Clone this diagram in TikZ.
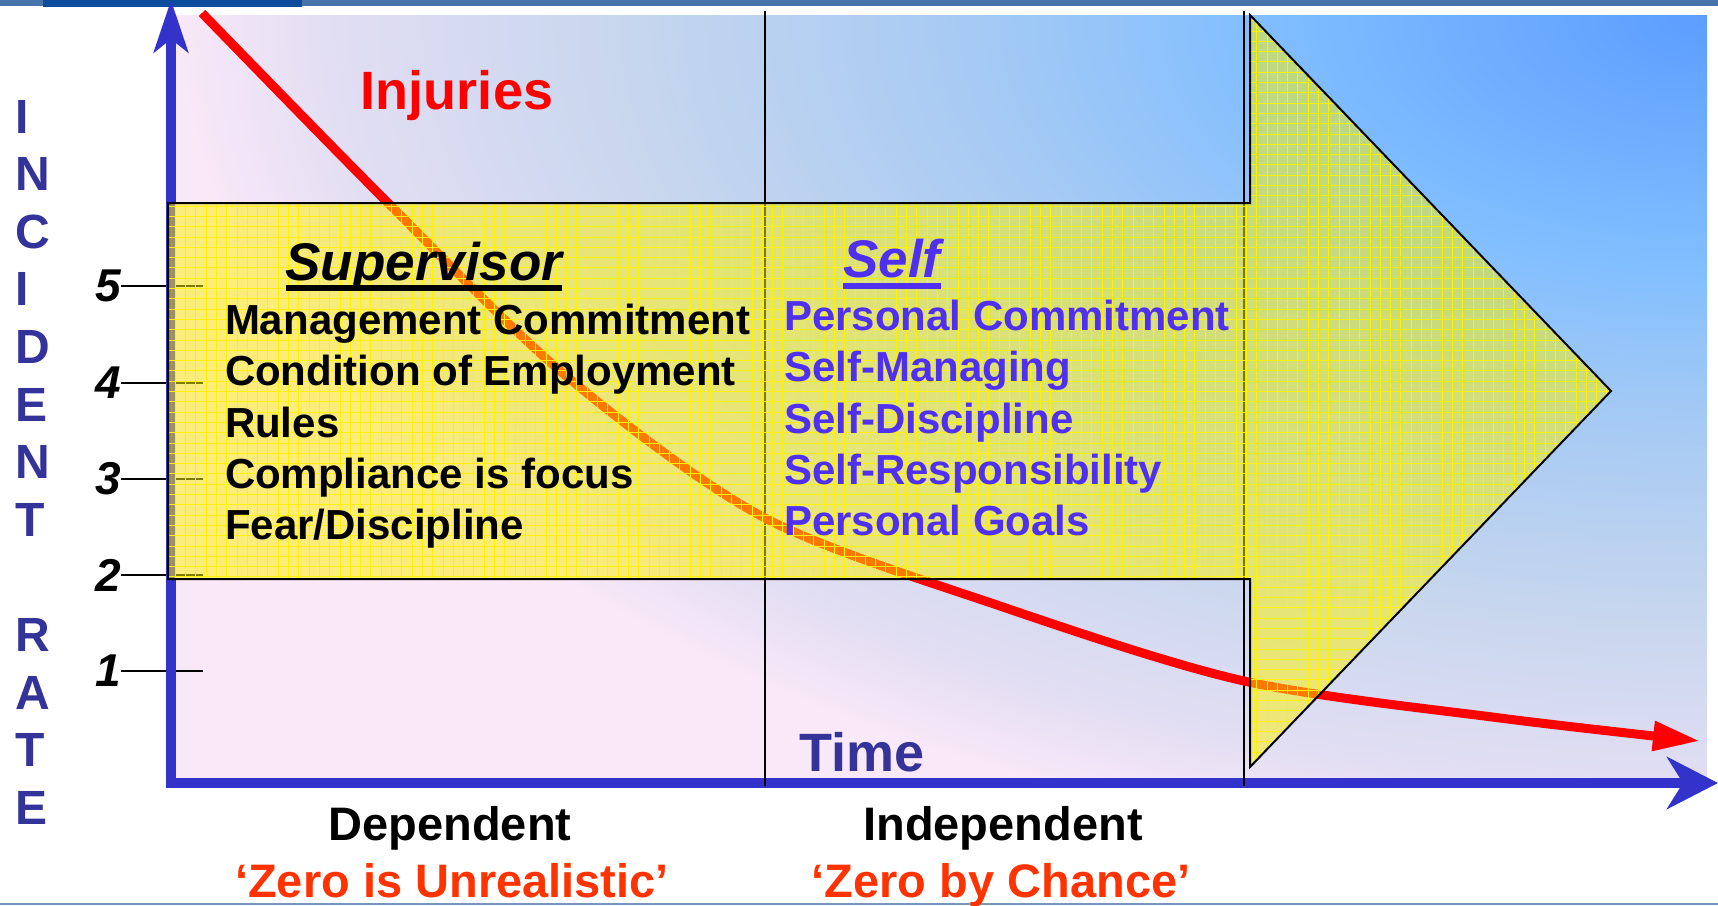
\documentclass[tikz,border=0pt]{standalone}
\usepackage{fontspec}
\setmainfont{Liberation Sans}
\usetikzlibrary{arrows.meta, positioning, shadings}

\definecolor{axisblue}{HTML}{3333CC}
\definecolor{labelblue}{HTML}{333399}
\definecolor{selfblue}{HTML}{5030F0}
\definecolor{zerored}{HTML}{FF3300}
\definecolor{stripe}{HTML}{4674AB}
\definecolor{stripedark}{HTML}{0B4C9C}
\definecolor{bgpink}{HTML}{F9E8F8}
\definecolor{bgblue}{HTML}{5C9DFF}
\definecolor{bgsky}{HTML}{82BFFF}
\definecolor{bgpale}{HTML}{A6CAF4}
\definecolor{bggrey}{HTML}{C6D6EE}
\definecolor{bglilac}{HTML}{E2DEF3}

% glow from the upper right corner of the panel
\pgfdeclareradialshading{panelglow}{\pgfpointorigin}{%
    color(0bp)=(bgblue); color(7.5bp)=(bgsky); color(12bp)=(bgpale);
    color(17.5bp)=(bggrey); color(22.5bp)=(bglilac); color(25bp)=(bgpink); color(50bp)=(bgpink)}

\begin{document}
\begin{tikzpicture}[
        x=1pt, y=-1pt,
        every node/.style={inner sep=0pt, outer sep=0pt},
        heading/.style={font=\fontsize{53}{60}\selectfont\bfseries\itshape, anchor=base},
        listtext/.style={font=\fontsize{42}{51.3}\selectfont\bfseries, align=left, anchor=north west},
        bottomtext/.style={font=\fontsize{47}{52}\selectfont\bfseries, anchor=base},
        bigtext/.style={font=\fontsize{54}{60}\selectfont\bfseries, anchor=base},
        ticknum/.style={font=\fontsize{46}{50}\selectfont\bfseries\itshape, anchor=east},
        tickline/.style={line width=1.6pt},
        underbar/.style={line width=6pt},
        divider/.style={line width=2pt},
        axis/.style={axisblue, line width=10pt, line join=miter},
        bigarrow/.style={line width=2pt, line join=miter}
    ]

        % page, stripes and shaded panel
        \fill[white] (0,0) rectangle (1718,905);
        \useasboundingbox (0,0) rectangle (1718,905);
        \fill[stripe] (0,0) rectangle (1718,6);
        \fill[stripedark] (43,0) rectangle (302,7);
        \fill[stripe!75!white] (0,903) rectangle (1718,905);
        \begin{scope}
            \clip (175,15) rectangle (1707,777);
            \fill[bgpink] (175,15) rectangle (1707,777);
            \shade[shading=panelglow] (175,-838) rectangle (3239,868);
        \end{scope}

        % scale on the rate axis
        \node (five) [ticknum] at (121,286) {5};
        \node (four) [ticknum] at (121,383) {4};
        \node (three) [ticknum] at (121,479) {3};
        \node (two) [ticknum] at (121,575) {2};
        \node (one) [ticknum] at (121,671) {1};
        \draw [tickline] (five.east) -- ++(82,0);
        \draw [tickline] (four.east) -- ++(82,0);
        \draw [tickline] (three.east) -- ++(82,0);
        \draw [tickline] (two.east) -- ++(82,0);
        \draw [tickline] (one.east) -- ++(82,0);

        % axes and dividers
        \draw [axis, {Stealth[length=52pt,width=34pt,inset=13pt]}-{Stealth[length=51pt,width=52pt,inset=16pt]}] (171,0) -- (171,783) -- (1718,783);
        \draw [divider] (765,11) -- (765,786);
        \draw [divider] (1244,11) -- (1244,786);

        % injuries curve
        \draw [red, line width=9pt, -{Triangle[length=47pt,width=28pt]}] plot[smooth] coordinates {(202,13) (387,202) (565,375) (763,517) (1000,606) (1244,681) (1500,718) (1700,741)};

        % the big arrow
        \draw [bigarrow, fill=yellow, fill opacity=0.5,
            path picture={\draw[yellow, line width=0.7pt, step=10.3pt] (path picture bounding box.south west) grid (path picture bounding box.north east);}]
            (168,203) -- (1250,203) -- (1250,15) -- (1611,391) -- (1250,767) -- (1250,579) -- (168,579) -- cycle;

        % texts
        \node (injuries) [bigtext, text=red] at (457,109) {Injuries};
        \node (supervisor) [heading] at (424,280) {Supervisor};
        \draw [underbar] ([yshift=-8pt]supervisor.base west) -- ([yshift=-8pt]supervisor.base east);
        \node (self) [heading, text=selfblue] at (892,277) {Self};
        \draw [underbar, selfblue] ([yshift=-9pt]self.base west) -- ([yshift=-9pt]self.base east);

        \node (duties) [listtext] at (225,304) {Management Commitment\\Condition of Employment\\Rules\\Compliance is focus\\Fear/Discipline};
        \node (traits) [listtext, text=selfblue] at (784,300) {Personal Commitment\\Self-Managing\\Self-Discipline\\Self-Responsibility\\Personal Goals};

        \node (ratelabel) [font=\fontsize{48}{57.6}\selectfont\bfseries, text=labelblue, align=left, anchor=north west] at (15,100) {I\\N\\C\\I\\D\\E\\N\\T\\[57.6pt]R\\A\\T\\E};
        \node (time) [bigtext, text=labelblue] at (862,771) {Time};

        \node (dependent) [bottomtext] at (450,840) {Dependent};
        \node (independent) [bottomtext] at (1003,840) {Independent};
        \node (unrealistic) [bottomtext, text=zerored] at (452,897) {‘Zero is Unrealistic’};
        \node (chance) [bottomtext, text=zerored] at (1001,897) {‘Zero by Chance’};
    \end{tikzpicture}
\end{document}
